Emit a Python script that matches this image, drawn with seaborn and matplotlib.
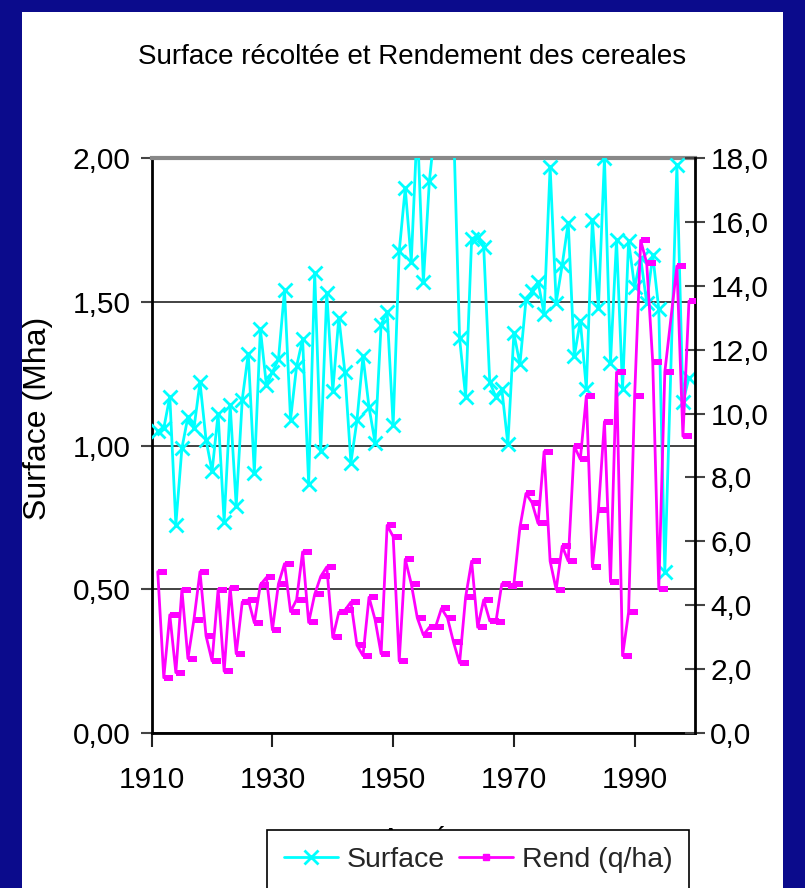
import numpy as np
import pandas as pd
import matplotlib
matplotlib.use("Agg")
import matplotlib.pyplot as plt
import seaborn as sns
from matplotlib.path import Path
from matplotlib.markers import MarkerStyle
from matplotlib.lines import Line2D
from matplotlib.patches import Rectangle
from matplotlib.ticker import FuncFormatter, FixedLocator

nan = np.nan

# ---------------- data ----------------
years = list(range(1911, 2000))

surface = [
    1.05, 1.06, 1.17, 0.725, 0.99, 1.10, 1.06, 1.22, 1.02, 0.91,      # 1911-1920
    1.11, 0.735, 1.14, 0.79, 1.16, 1.32, 0.905, 1.405, 1.21, 1.255,    # 1921-1930
    1.30, 1.54, 1.09, 1.275, 1.37, 0.867, 1.60, 0.98, 1.53, 1.19,      # 1931-1940
    1.445, 1.255, 0.94, 1.087, 1.31, 1.133, 1.01, 1.42, 1.465, 1.07,   # 1941-1950
    1.675, 1.895, 1.64, 2.12, 1.567, 1.92, 2.12, 2.30, 2.25, 2.12,     # 1951-1960
    1.373, 1.17, 1.72, 1.725, 1.69, 1.22, 1.17, 1.195, 1.005, 1.39,    # 1961-1970
    1.283, 1.506, 1.536, 1.569, 1.458, 1.97, 1.497, 1.628, 1.775, 1.31,  # 1971-1980
    1.434, 1.197, 1.785, 1.477, 2.00, 1.288, 1.715, 1.197, 1.711, 1.551,  # 1981-1990
    1.653, 1.496, 1.662, 1.475, 0.56, nan, 1.975, 1.15, 1.236,          # 1991-1999
]

rendement = [
    5.05, 1.73, 3.70, 1.89, 4.49, 2.33, 3.55, 5.05, 3.04, 2.25,        # 1911-1920
    4.49, 1.93, 4.55, 2.48, 4.10, 4.17, 3.45, 4.64, 4.87, 3.23,        # 1921-1930
    4.67, 5.30, 3.80, 4.17, 5.67, 3.46, 4.34, 4.90, 5.20, 2.99,        # 1931-1940
    3.78, 3.84, 4.10, 2.75, 2.42, 4.25, 3.55, 2.48, 6.50, 6.15,        # 1941-1950
    2.25, 5.44, 4.67, 3.60, 3.07, 3.31, 3.31, 3.90, 3.60, 2.84,        # 1951-1960
    2.19, 4.25, 5.38, 3.31, 4.17, 3.51, 3.46, 4.67, 4.61, 4.67,        # 1961-1970
    6.44, 7.50, 7.21, 6.56, 8.81, 5.38, 4.49, 5.85, 5.38, 8.98,        # 1971-1980
    8.57, 10.55, 5.20, 6.97, 9.75, 4.73, 11.29, 2.42, 3.78, 10.55,     # 1981-1990
    15.42, 14.71, 11.60, 4.51, 11.30, nan, 14.62, 9.29, 13.52,         # 1991-1999
]

x_ticks = [1910, 1930, 1950, 1970, 1990]
left_ticks = [0.0, 0.5, 1.0, 1.5, 2.0]
right_ticks = [0, 2, 4, 6, 8, 10, 12, 14, 16, 18]

title = "Surface récoltée et Rendement des cereales"
ylabel_left = "Surface (Mha)"
xlabel = "Année"
series_names = ["Surface", "Rend (q/ha)"]

df = pd.DataFrame({"Année": years, "Surface": surface, "Rend": rendement})

# ---------------- style ----------------
sns.set_theme(style="white")
plt.rcParams["font.family"] = ["Liberation Sans", "DejaVu Sans"]

W, H = 805, 888
fig = plt.figure(figsize=(W / 100, H / 100), dpi=100)
fig.patch.set_facecolor("#0b0b8c")
fig.add_artist(Rectangle((22 / W, 0), (783 - 22) / W, 1 - 12 / H,
                         transform=fig.transFigure, facecolor="white",
                         edgecolor="none", zorder=-1))

L, R, T, B = 151.7, 695, 158, 733
ax = fig.add_axes([L / W, 1 - B / H, (R - L) / W, (B - T) / H])
ax.set_facecolor("white")

CYAN = "#00FFFF"
MAG = "#FF00FF"

sns.lineplot(data=df.dropna(subset=["Surface"]), x="Année", y="Surface", ax=ax,
             color=CYAN, lw=2, marker="x", markersize=10, markeredgewidth=2,
             markeredgecolor=CYAN, estimator=None, errorbar=None,
             label=series_names[0], legend=False, zorder=3)

ax2 = ax.twinx()
dash = Path([(0, -0.3), (1, -0.3), (1, 0.3), (0, 0.3), (0, -0.3)],
            [Path.MOVETO, Path.LINETO, Path.LINETO, Path.LINETO, Path.CLOSEPOLY])
dash_marker = MarkerStyle(dash)
sns.lineplot(data=df.dropna(subset=["Rend"]), x="Année", y="Rend", ax=ax2,
             color=MAG, lw=2, marker=dash_marker, markersize=13,
             markeredgewidth=0, markerfacecolor=MAG, markeredgecolor=MAG,
             estimator=None, errorbar=None, label=series_names[1],
             legend=False, zorder=3)

# axes limits & ticks
ax.set_xlim(1910, 2000)
ax.set_ylim(0, 2.0)
ax2.set_ylim(0, 18)
ax.xaxis.set_major_locator(FixedLocator(x_ticks))
ax.yaxis.set_major_locator(FixedLocator(left_ticks))
ax2.yaxis.set_major_locator(FixedLocator(right_ticks))
ax.yaxis.set_major_formatter(FuncFormatter(lambda v, p: f"{v:.2f}".replace(".", ",")))
ax2.yaxis.set_major_formatter(FuncFormatter(lambda v, p: f"{v:.1f}".replace(".", ",")))
ax.xaxis.set_major_formatter(FuncFormatter(lambda v, p: f"{int(v)}"))

ax.set_xlabel("")
ax.set_ylabel("")
ax2.set_ylabel("")
ax2.set_xlabel("")

# gridlines (horizontal, left scale)
ax.yaxis.grid(True, color="#222222", lw=1.2, zorder=0)
ax.xaxis.grid(False)
ax.set_axisbelow(True)

for s in ["left", "bottom"]:
    ax.spines[s].set_visible(True)
    ax.spines[s].set_color("black")
    ax.spines[s].set_linewidth(2)
ax.spines["top"].set_color("#888888")
ax.spines["top"].set_linewidth(3)
ax.spines["right"].set_visible(False)
for s in ["left", "top", "bottom"]:
    ax2.spines[s].set_visible(False)
ax2.spines["right"].set_visible(True)
ax2.spines["right"].set_color("black")
ax2.spines["right"].set_linewidth(2)

ax.tick_params(axis="y", which="major", direction="out", length=8, width=1.5,
               color="#444444", labelsize=21.5, pad=7, left=True, labelcolor="black")
ax.tick_params(axis="x", which="major", direction="out", length=10, width=1.5,
               color="#222222", labelsize=21.5, pad=14, bottom=True, labelcolor="black")
ax2.tick_params(axis="y", which="major", direction="inout", length=14, width=1.5,
                color="#444444", labelsize=21.5, pad=4, right=True, labelcolor="black")

# texts
fig.text(412 / W, 1 - 57 / H, title, ha="center", va="center", fontsize=20, color="black")
fig.text(38 / W, 1 - 418 / H, ylabel_left, ha="center", va="center",
         rotation=90, fontsize=23, color="black")
fig.text(423 / W, 1 - 826 / H, xlabel, ha="center", va="top", fontsize=21, color="black")

# legend
handles = [
    Line2D([], [], color=CYAN, lw=2, marker="x", markersize=10, markeredgewidth=2),
    Line2D([], [], color=MAG, lw=2, marker="s", markersize=4),
]
leg = fig.legend(handles, series_names, loc="upper center",
                 bbox_to_anchor=(478 / W, 1 - 830 / H), ncol=2, frameon=True,
                 fancybox=False, edgecolor="black", facecolor="white",
                 fontsize=20.5, handlelength=1.9, handletextpad=0.3,
                 columnspacing=0.5, borderpad=0.6, borderaxespad=0)
leg.get_frame().set_linewidth(1.2)
leg.get_frame().set_alpha(1)
leg.set_zorder(10)

fig.savefig("out.png", dpi=100, facecolor=fig.get_facecolor())
